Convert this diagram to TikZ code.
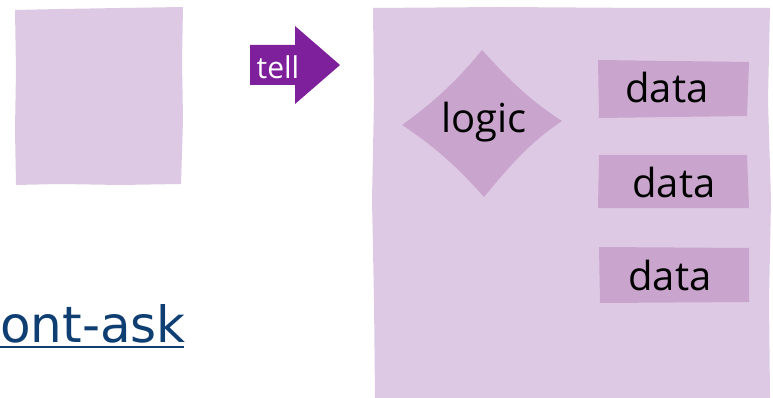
\documentclass[tikz,border=0pt]{standalone}
\usepackage{fontspec}
\setmainfont{Open Sans}
\newfontfamily\linkfont{DejaVu Sans}
\definecolor{lightp}{HTML}{DDC9E3}
\definecolor{midp}{HTML}{C9A5CE}
\definecolor{arrowp}{HTML}{7E1F9B}
\definecolor{linkblue}{HTML}{0E3E72}
\tikzset{
  lbl/.style={inner sep=0pt, font=\fontsize{40}{40}\selectfont, text=black},
}
\begin{document}
\begin{tikzpicture}[x=1pt,y=-1pt]
\useasboundingbox (0,0) rectangle (773,398);
% left square
\fill[lightp] (15,10) -- (60,9) -- (120,8) -- (183,7) -- (182,60) -- (183,120) -- (181,184) -- (120,185) -- (60,184) -- (16,185) -- (15,130) -- (16,70) -- cycle;
% tell arrow
\fill[arrowp] (250,45) -- (295,45) -- (295,26) -- (340,65) -- (295,104) -- (295,85) -- (250,85) -- cycle;
\node[inner sep=0pt, font=\fontsize{30}{30}\selectfont, text=white] (tell) at (278,67) {tell};
% big box
\fill[lightp] (373,8) -- (500,7) -- (650,8) -- (770,8) -- (768,100) -- (771,200) -- (769,300) -- (770,398) -- (375,398) -- (374,300) -- (372,200) -- (374,100) -- cycle;
% diamond
\fill[midp] (482,50) .. controls (505,75) and (525,97) .. (562,121)
  .. controls (530,142) and (508,168) .. (484,197)
  .. controls (460,170) and (437,148) .. (402,125)
  .. controls (437,100) and (460,77) .. cycle;
\node[lbl] (logic) at (484,122) {logic};
% data boxes
\fill[midp] (598,60) -- (749,62) -- (747,116) -- (599,118) -- cycle;
\node[lbl] (d1) at (667,88) {data};
\fill[midp] (599,155) -- (747,155) -- (749,208) -- (598,208) -- cycle;
\node[lbl] (d2) at (674,182) {data};
\fill[midp] (599,247) -- (749,248) -- (749,302) -- (600,303) -- cycle;
\node[lbl] (d3) at (670,275) {data};
% link text
\node[anchor=base west, inner sep=0pt, font=\linkfont\fontsize{50}{50}\selectfont, text=linkblue] (link) at (0,342) {ont-ask};
\draw[linkblue, line width=2.2pt] (0,347) -- (184,347);
\end{tikzpicture}
\end{document}
